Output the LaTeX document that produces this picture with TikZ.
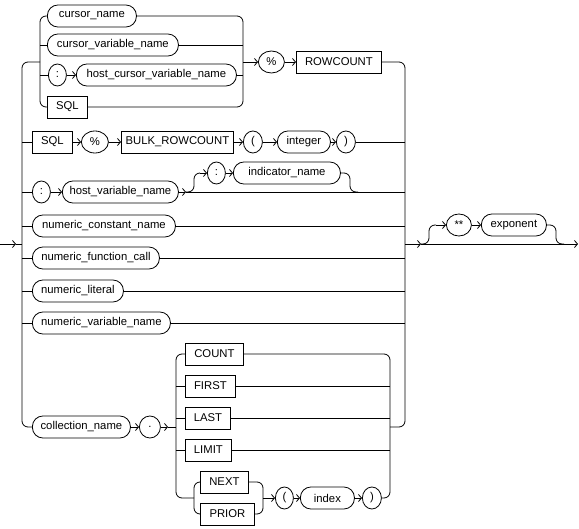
\documentclass[tikz,border=0pt]{standalone}
\usepackage{fontspec}
\setmainfont{Liberation Sans}
\usetikzlibrary{arrows.meta,positioning,shapes.geometric}
\begin{document}
\begin{tikzpicture}[x=1pt,y=-1pt,
  every node/.style={font=\fontsize{11.3}{13}\selectfont},
  kw/.style={draw, line width=0.8pt, rectangle, minimum height=22pt, inner xsep=2pt, inner ysep=0pt, anchor=west},
  nt/.style={draw, line width=0.8pt, rectangle, rounded corners=10.5pt, minimum height=22pt, inner xsep=2pt, inner ysep=0pt, anchor=west},
  ci/.style={draw, line width=0.8pt, ellipse, minimum height=22pt, minimum width=18pt, inner sep=0pt, anchor=west},
  rail/.style={line width=0.8pt, rounded corners=6pt},
  arr/.style={line width=0.8pt, -{Straight Barb[length=3pt,width=7pt]}},
]
\useasboundingbox (0,0) rectangle (579,529);

% ---- top group
\node[nt,minimum width=89pt]  (cn)   at (47,16)  {cursor\_name};
\node[nt,minimum width=131pt] (cvn)  at (47,45)  {cursor\_variable\_name};
\node[ci]                     (c1)   at (48,75)  {:};
\node[nt,minimum width=160pt] (hcvn) at (76,75)  {host\_cursor\_variable\_name};
\node[kw,minimum width=40pt]  (sql1) at (47,107) {SQL};
\node[ci,minimum width=26pt]  (p1)   at (258,62) {\%};
\node[kw,minimum width=85pt]  (rc)   at (296,62) {ROWCOUNT};

% ---- row 2
\node[kw,minimum width=40pt]  (sql2) at (32,142)  {SQL};
\node[ci,minimum width=27pt]  (p2)   at (81,142)  {\%};
\node[kw,minimum width=112pt] (brc)  at (121,142) {BULK\_ROWCOUNT};
\node[ci,minimum width=19pt]  (lp2)  at (243,142) {(};
\node[nt,minimum width=53pt]  (int)  at (277,142) {integer};
\node[ci,minimum width=19pt]  (rp2)  at (336,142) {)};

% ---- row 3
\node[ci]                     (c3)   at (32,192)  {:};
\node[nt,minimum width=116pt] (hvn)  at (62,192)  {host\_variable\_name};
\node[ci]                     (c3b)  at (207,173) {:};
\node[nt,minimum width=107pt] (ind)  at (233,173) {indicator\_name};

% ---- rows 4-7
\node[nt,minimum width=143pt] (ncn)  at (32,226) {numeric\_constant\_name};
\node[nt,minimum width=127pt] (nfc)  at (32,258) {numeric\_function\_call};
\node[nt,minimum width=91pt]  (nl)   at (32,291) {numeric\_literal};
\node[nt,minimum width=138pt] (nvn)  at (32,323) {numeric\_variable\_name};

% ---- collection
\node[nt,minimum width=98pt]  (coll) at (32,427) {collection\_name};
\node[ci,minimum width=21pt]  (dot)  at (139,427) {.};
\node[kw,minimum width=58pt]  (cnt)  at (185,354) {COUNT};
\node[kw,minimum width=50pt]  (fst)  at (185,386) {FIRST};
\node[kw,minimum width=45pt]  (lst)  at (185,418) {LAST};
\node[kw,minimum width=46pt]  (lim)  at (185,450) {LIMIT};
\node[kw,minimum width=48pt]  (nxt)  at (200,482) {NEXT};
\node[kw,minimum width=54pt]  (pri)  at (200,514) {PRIOR};
\node[ci,minimum width=18pt]  (lp3)  at (275,498) {(};
\node[nt,minimum width=54pt]  (idx)  at (300,498) {index};
\node[ci,minimum width=19pt]  (rp3)  at (362,498) {)};

% ---- exponent
\node[ci,minimum width=25pt]  (st)   at (446,225) {**};
\node[nt,minimum width=65pt]  (ex)   at (481,225) {exponent};

% ================= rails
% entry
\draw[arr] (0,244) -- (16,244);
\draw[rail] (16,244) -- (22,244);
% outer left bar
\draw[rail] (40,62) -- (22,62) -- (22,427) -- (coll.west);
\draw[rail] (22,142) -- (sql2.west);
\draw[rail] (22,192) -- (c3.west);
\draw[rail] (22,226) -- (ncn.west);
\draw[rail] (22,258) -- (nfc.west);
\draw[rail] (22,291) -- (nl.west);
\draw[rail] (22,323) -- (nvn.west);
% outer right bar
\draw[rail] (rc.east) -- (405,62) -- (405,427) -- (390,427);

% top group
\draw[rail] (cn.west) -- (40,16) -- (40,107) -- (sql1.west);
\draw[rail] (40,45) -- (cvn.west);
\draw[rail] (40,75) -- (c1.west);
\draw[arr] (c1.east) -- (hcvn.west);
\draw[rail] (cn.east) -- (243,16) -- (243,107) -- (sql1.east);
\draw[rail] (cvn.east) -- (243,45);
\draw[rail] (hcvn.east) -- (243,75);
\draw[arr] (243,62) -- (p1.west);
\draw[arr] (p1.east) -- (rc.west);

% row 2
\draw[arr] (sql2.east) -- (p2.west);
\draw[arr] (p2.east) -- (brc.west);
\draw[arr] (brc.east) -- (lp2.west);
\draw[arr] (lp2.east) -- (int.west);
\draw[arr] (int.east) -- (rp2.west);
\draw[rail] (rp2.east) -- (405,142);

% row 3
\draw[arr] (c3.east) -- (hvn.west);
\draw[arr] (hvn.east) -- (186,192);
\draw[rail] (186,192) -- (405,192);
\draw[rail] (186,192) -- (194,192) -- (194,173) -- (200,173);
\draw[arr] (200,173) -- (c3b.west);
\draw[arr] (c3b.east) -- (ind.west);
\draw[rail] (ind.east) -- (350,173) -- (350,192) -- (358,192);

% rows 4-7
\draw[rail] (ncn.east) -- (405,226);
\draw[rail] (nfc.east) -- (405,258);
\draw[rail] (nl.east) -- (405,291);
\draw[rail] (nvn.east) -- (405,323);

% collection
\draw[arr] (coll.east) -- (dot.west);
\draw[arr] (dot.east) -- (168,427);
\draw[rail] (168,427) -- (176,427);
\draw[rail] (cnt.west) -- (176,354) -- (176,498) -- (194,498);
\draw[rail] (176,386) -- (fst.west);
\draw[rail] (176,418) -- (lst.west);
\draw[rail] (176,450) -- (lim.west);
\draw[rail] (nxt.west) -- (194,482) -- (194,514) -- (pri.west);
\draw[rail] (nxt.east) -- (263,482) -- (263,514) -- (pri.east);
\draw[arr] (263,498) -- (lp3.west);
\draw[arr] (lp3.east) -- (idx.west);
\draw[arr] (idx.east) -- (rp3.west);
\draw[rail] (rp3.east) -- (390,498) -- (390,354) -- (cnt.east);
\draw[rail] (fst.east) -- (390,386);
\draw[rail] (lst.east) -- (390,418);
\draw[rail] (lim.east) -- (390,450);

% exit with optional exponent
\draw[arr] (405,244) -- (421,244);
\draw[arr] (421,244) -- (578,244);
\draw[rail] (421,244) -- (429,244) -- (429,225) -- (436,225);
\draw[arr] (436,225) -- (st.west);
\draw[arr] (st.east) -- (ex.west);
\draw[rail] (ex.east) -- (556,225) -- (556,244) -- (564,244);
\end{tikzpicture}
\end{document}
